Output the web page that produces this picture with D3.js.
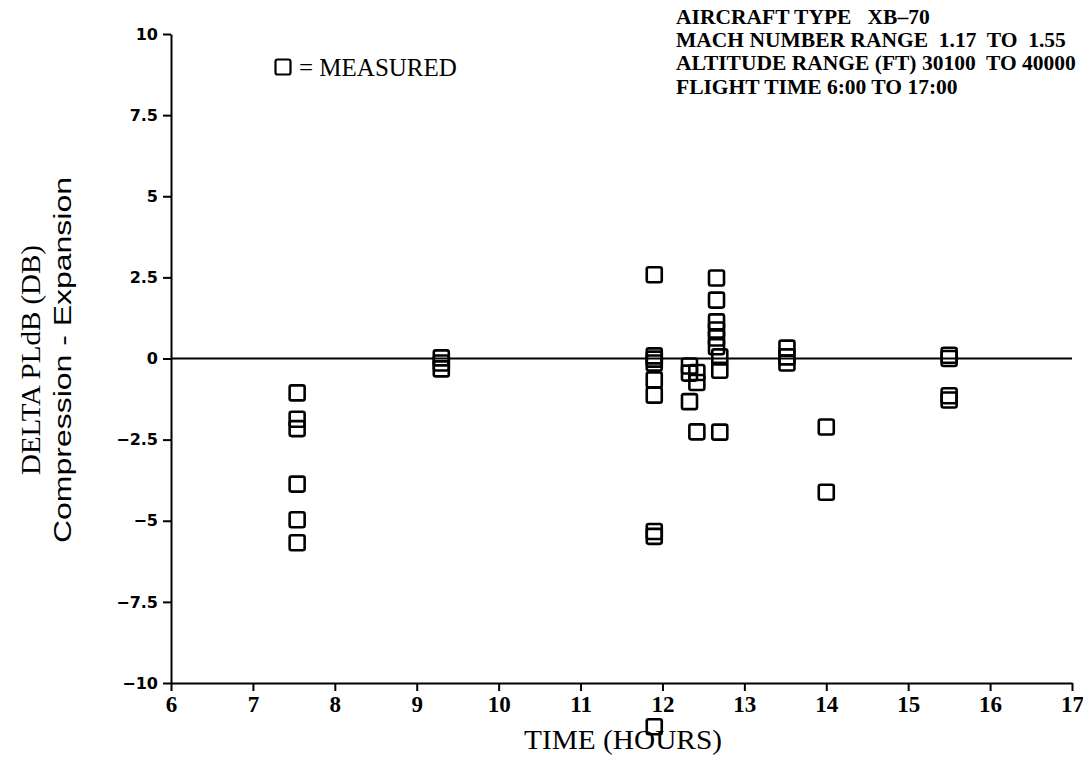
<!DOCTYPE html>
<html>
<head>
<meta charset="utf-8">
<script src="https://cdn.jsdelivr.net/npm/d3@7"></script>
<style>
  body { margin: 0; background: #fff; }
  svg { display: block; }
</style>
</head>
<body>
<div id="chart"></div>
<script>
// measured points
var timeHours = [
  7.54, 7.54, 7.54, 7.54, 7.54, 7.54,
  9.30, 9.30, 9.30,
  11.90, 11.90, 11.90, 11.90, 11.90, 11.90, 11.90, 11.90, 11.90,
  12.33, 12.33, 12.33,
  12.42, 12.42, 12.42,
  12.66, 12.66, 12.66, 12.66, 12.66, 12.66,
  12.70, 12.70, 12.70,
  13.52, 13.52, 13.52,
  14.00, 14.00,
  15.50, 15.50, 15.50, 15.50
];
var deltaPLdB = [
  -1.06, -1.87, -2.16, -3.87, -4.97, -5.68,
  0.02, -0.14, -0.32,
  2.58, 0.08, -0.02, -0.14, -0.66, -1.13, -5.33, -5.48, -11.35,
  -0.23, -0.45, -1.33,
  -0.43, -0.74, -2.26,
  2.48, 1.80, 1.13, 0.88, 0.63, 0.36,
  0.05, -0.36, -2.27,
  0.32, 0.05, -0.14,
  -2.11, -4.12,
  0.10, 0.00, -1.15, -1.28
];
var xTicks = [6, 7, 8, 9, 10, 11, 12, 13, 14, 15, 16, 17];
var yTicks = [10, 7.5, 5, 2.5, 0, -2.5, -5, -7.5, -10];
var infoLines = [
  "AIRCRAFT TYPE   XB\u201370",
  "MACH NUMBER RANGE  1.17  TO  1.55",
  "ALTITUDE RANGE (FT) 30100  TO 40000",
  "FLIGHT TIME 6:00 TO 17:00"
];

var svgWidth = 1083;
var svgHeight = 761;
var margin = {top: 34, right: 11, bottom: 78, left: 171};
var width = svgWidth - margin.left - margin.right;
var height = svgHeight - margin.top - margin.bottom;

var data = timeHours.map((t, i) => ({t: t, d: deltaPLdB[i]}));

var svg = d3.select("#chart")
  .append("svg")
    .attr("width", svgWidth)
    .attr("height", svgHeight);

var chartGroup = svg.append("g")
  .attr("transform", `translate(${margin.left}, ${margin.top})`);

var xScale = d3.scaleLinear().domain([6, 17]).range([0, width]);
var yScale = d3.scaleLinear().domain([-10, 10]).range([height, 0]);

var bottomAxis = d3.axisBottom(xScale)
  .tickValues(xTicks)
  .tickSizeInner(8)
  .tickSizeOuter(0)
  .tickPadding(5)
  .tickFormat(d3.format("d"));
var leftAxis = d3.axisLeft(yScale)
  .tickValues(yTicks)
  .tickSizeInner(8)
  .tickSizeOuter(0)
  .tickPadding(5)
  .tickFormat(d => String(d).replace("-", "\u2212"));

var xAxisG = chartGroup.append("g")
  .attr("transform", `translate(0, ${height})`)
  .call(bottomAxis);
xAxisG.selectAll("text")
  .attr("font-family", "'Liberation Serif', serif")
  .attr("font-weight", "bold")
  .attr("font-size", "23px")
  .attr("fill", "#000");

var yAxisG = chartGroup.append("g")
  .call(leftAxis);
yAxisG.selectAll("text")
  .attr("font-family", "'DejaVu Sans', sans-serif")
  .attr("font-weight", "bold")
  .attr("font-size", "16px")
  .attr("fill", "#000");

chartGroup.selectAll(".domain, .tick line")
  .attr("stroke", "#000")
  .attr("stroke-width", 2);

// zero reference line
chartGroup.append("line")
  .attr("x1", xScale(6))
  .attr("x2", xScale(17))
  .attr("y1", yScale(0))
  .attr("y2", yScale(0))
  .attr("stroke", "#000")
  .attr("stroke-width", 2);

var boxSize = 15;
chartGroup.selectAll("rect.pt")
  .data(data)
  .enter()
  .append("rect")
    .attr("class", "pt")
    .attr("x", d => xScale(d.t) - boxSize / 2)
    .attr("y", d => yScale(d.d) - boxSize / 2)
    .attr("width", boxSize)
    .attr("height", boxSize)
    .attr("rx", 2)
    .attr("fill", "none")
    .attr("stroke", "#000")
    .attr("stroke-width", 2.6);

// legend
svg.append("rect")
  .attr("x", 283 - boxSize / 2)
  .attr("y", 67 - boxSize / 2)
  .attr("width", boxSize)
  .attr("height", boxSize)
  .attr("rx", 2)
  .attr("fill", "none")
  .attr("stroke", "#000")
  .attr("stroke-width", 2.2);
svg.append("text")
  .attr("x", 299)
  .attr("y", 76)
  .attr("font-family", "'Liberation Serif', serif")
  .attr("font-size", "25px")
  .text("= MEASURED");

// flight info block
svg.append("g").selectAll("text")
  .data(infoLines)
  .enter()
  .append("text")
    .attr("x", 676)
    .attr("y", (d, i) => 24 + i * 23.2)
    .attr("font-family", "'Liberation Serif', serif")
    .attr("font-weight", "bold")
    .attr("font-size", "21.5px")
    .style("white-space", "pre")
    .text(d => d);

// axis titles
svg.append("text")
  .attr("x", 623)
  .attr("y", 749)
  .attr("text-anchor", "middle")
  .attr("font-family", "'Liberation Serif', serif")
  .attr("font-size", "28px")
  .attr("textLength", 198)
  .attr("lengthAdjust", "spacingAndGlyphs")
  .text("TIME (HOURS)");

svg.append("text")
  .attr("transform", "translate(40, 360) rotate(-90)")
  .attr("text-anchor", "middle")
  .attr("font-family", "'Liberation Serif', serif")
  .attr("font-size", "28px")
  .attr("textLength", 230)
  .attr("lengthAdjust", "spacingAndGlyphs")
  .text("DELTA PLdB (DB)");

svg.append("text")
  .attr("transform", "translate(71, 360) rotate(-90)")
  .attr("text-anchor", "middle")
  .attr("font-family", "'Liberation Sans', sans-serif")
  .attr("font-size", "23px")
  .attr("textLength", 366)
  .attr("lengthAdjust", "spacingAndGlyphs")
  .text("Compression - Expansion");
</script>
</body>
</html>
